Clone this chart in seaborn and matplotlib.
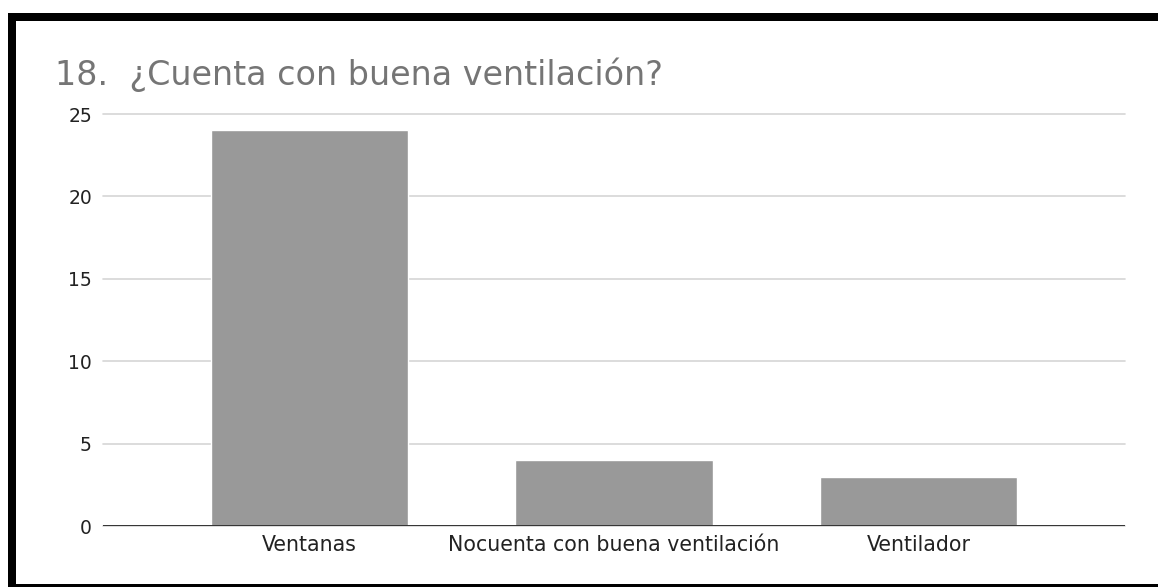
import matplotlib
matplotlib.use("Agg")
import matplotlib.pyplot as plt
import seaborn as sns
import pandas as pd
from matplotlib.patches import Rectangle

# datos
categorias = ["Ventanas", "Nocuenta con buena ventilación", "Ventilador"]
respuestas = [24, 4, 3]
ticks_y = [0, 5, 10, 15, 20, 25]
titulo = "18.  ¿Cuenta con buena ventilación?"

df = pd.DataFrame({"categoria": categorias, "respuestas": respuestas})

sns.set_style("white")
plt.rcParams["font.family"] = ["DejaVu Sans"]

W, H = 1158, 587
fig = plt.figure(figsize=(W / 100, H / 100), dpi=100)
ax = fig.add_axes([103 / W, (H - 526) / H, 1022 / W, 412 / H])

sns.barplot(data=df, x="categoria", y="respuestas", color="#999999",
            saturation=1, width=0.647, ax=ax, zorder=3)

ax.set_ylim(0, 25)
ax.set_xlim(-0.678, 2.678)
ax.set_yticks(ticks_y)
ax.yaxis.grid(True, color="#d6d6d6", linewidth=1.2, zorder=0)
ax.xaxis.grid(False)
for gl in ax.get_ygridlines():
    gl.set_clip_on(False)
ax.axhline(0, color="#333333", linewidth=1.4, zorder=4)
for s in ax.spines.values():
    s.set_visible(False)
ax.set_xlabel("")
ax.set_ylabel("")
ax.tick_params(axis="y", length=0, pad=8, labelsize=13.5, labelcolor="#222222")
ax.tick_params(axis="x", length=0, pad=6.5, labelsize=14.8, labelcolor="#222222")

fig.text(55 / W, (H - 85) / H, titulo, fontsize=24, color="#757575", va="baseline", ha="left")

# marco negro (arriba, izquierda, abajo)
marco = dict(transform=fig.transFigure, facecolor="black", edgecolor="none", zorder=10)
fig.patches.append(Rectangle((8 / W, 0), 8 / W, (H - 13) / H, **marco))
fig.patches.append(Rectangle((8 / W, (H - 21) / H), (W - 8) / W, 8 / H, **marco))
fig.patches.append(Rectangle((8 / W, 0), (W - 8) / W, 3 / H, **marco))

fig.savefig("out.png", dpi=100)
